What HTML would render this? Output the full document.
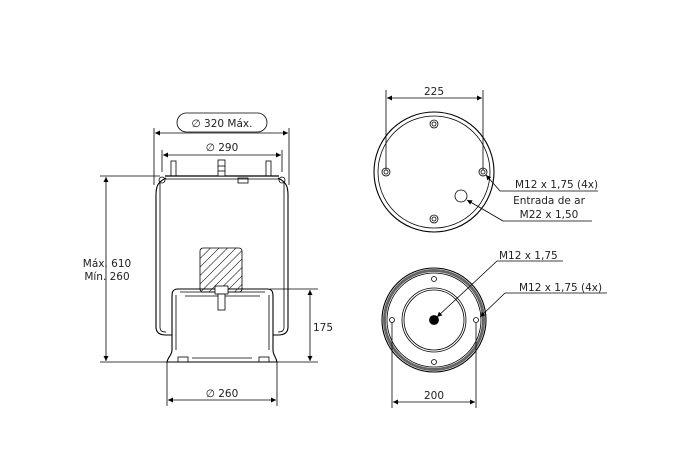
<!DOCTYPE html>
<html><head><meta charset="utf-8"><style>
html,body{margin:0;padding:0;background:#fff;}
svg{display:block;font-family:"DejaVu Sans","Liberation Sans",sans-serif;}
</style></head><body>
<svg width="679" height="471" viewBox="0 0 679 471" xmlns="http://www.w3.org/2000/svg">
<defs>
<marker id="a" viewBox="0 0 10 10" refX="10" refY="5" markerWidth="8" markerHeight="5" orient="auto-start-reverse" markerUnits="userSpaceOnUse"><path d="M0,0L10,5L0,10z" fill="#000"/></marker>
<pattern id="h" width="6" height="6" patternUnits="userSpaceOnUse" patternTransform="rotate(45)"><line x1="0" y1="0" x2="0" y2="6" stroke="#000" stroke-width="1"/></pattern>
</defs>
<g stroke="#000" fill="none" stroke-width="0.8">
<!-- LEFT VIEW -->
<rect x="177" y="113" width="90" height="19" rx="9.5"/>
<line x1="154" y1="128" x2="154" y2="185"/><line x1="289" y1="128" x2="289" y2="185"/>
<line x1="155" y1="133" x2="288" y2="133" marker-start="url(#a)" marker-end="url(#a)"/>
<line x1="162" y1="150" x2="162" y2="172"/><line x1="282" y1="150" x2="282" y2="172"/>
<line x1="163" y1="155" x2="281" y2="155" marker-start="url(#a)" marker-end="url(#a)"/>
<!-- top plate -->
<line x1="165" y1="176" x2="279" y2="176" stroke-width="1.2"/>
<line x1="165" y1="179" x2="279" y2="179"/>
<rect x="171" y="161" width="5" height="15"/><rect x="266" y="161" width="5" height="15"/>
<rect x="218" y="160" width="7" height="16" fill="#fff"/><line x1="218" y1="166" x2="225" y2="166"/><line x1="218" y1="171" x2="225" y2="171"/>
<rect x="238" y="178" width="10" height="5"/>
<!-- bellows -->
<path d="M166,178 C158,182 156,186 156,195 L156,327 C156,333 160,335 166,335 L174,335" stroke-width="1.1"/>
<path d="M160,183 L160,327 C160,331 162,332 166,332" />
<path d="M278,178 C286,182 288,186 288,195 L288,327 C288,333 284,335 278,335 L271,335" stroke-width="1.1"/>
<path d="M284,183 L284,327 C284,331 282,332 278,332"/>
<circle cx="162" cy="180" r="3"/><circle cx="282" cy="180" r="3"/>
<!-- piston -->
<path d="M178,289 C172,289 172,293 172,297 L172,350 C172,355 168,357 167,362 L277,362 C276,357 273,355 273,350 L273,297 C273,293 273,289 267,289 Z" fill="#fff" stroke-width="1.1"/>
<path d="M176,295 L176,350 M269,295 L269,350"/>
<path d="M180,292 L265,292 M185,296 L260,296"/>
<rect x="200" y="248" width="42" height="44" rx="3" fill="url(#h)"/>
<rect x="215" y="286" width="13" height="8" fill="#fff"/>
<rect x="218" y="294" width="7" height="16" fill="#fff"/>
<rect x="178" y="357" width="10" height="5"/><rect x="259" y="357" width="10" height="5"/>
<line x1="192" y1="358" x2="252" y2="358"/>
<!-- dims -->
<line x1="100" y1="176" x2="160" y2="176"/>
<line x1="100" y1="362" x2="318" y2="362"/>
<line x1="106" y1="177" x2="106" y2="361" marker-start="url(#a)" marker-end="url(#a)"/>
<line x1="270" y1="289" x2="318" y2="289"/>
<line x1="310" y1="290" x2="310" y2="361" marker-start="url(#a)" marker-end="url(#a)"/>
<line x1="167" y1="362" x2="167" y2="406"/><line x1="277" y1="362" x2="277" y2="406"/>
<line x1="168" y1="400" x2="276" y2="400" marker-start="url(#a)" marker-end="url(#a)"/>
<!-- TOP RIGHT -->
<circle cx="434" cy="172" r="60" stroke-width="1.1"/>
<circle cx="434" cy="172" r="56"/>
<g><circle cx="386" cy="172" r="4"/><circle cx="386" cy="172" r="2"/>
<circle cx="483" cy="172" r="4"/><circle cx="483" cy="172" r="2"/>
<circle cx="434" cy="124" r="4"/><circle cx="434" cy="124" r="2"/>
<circle cx="434" cy="219" r="4"/><circle cx="434" cy="219" r="2"/></g>
<circle cx="461" cy="196" r="6"/>
<line x1="386" y1="90" x2="386" y2="170"/><line x1="483" y1="90" x2="483" y2="170"/>
<line x1="387" y1="98" x2="482" y2="98" marker-start="url(#a)" marker-end="url(#a)"/>
<polyline points="500,191 598,191"/><line x1="500" y1="191" x2="486" y2="175" marker-end="url(#a)"/>
<polyline points="503,221 592,221"/><line x1="503" y1="221" x2="467" y2="200" marker-end="url(#a)"/>
<!-- BOTTOM RIGHT -->
<circle cx="434" cy="320" r="52" stroke-width="1.1"/>
<circle cx="434" cy="320" r="49.5" stroke="#666" stroke-width="3"/>
<circle cx="434" cy="320" r="47"/>
<circle cx="434" cy="320" r="32"/><circle cx="434" cy="320" r="30"/>
<circle cx="434" cy="320" r="4.5" fill="#000"/>
<circle cx="392" cy="320" r="2.5"/><circle cx="476" cy="320" r="2.5"/>
<circle cx="434" cy="279" r="2.5"/><circle cx="434" cy="362" r="2.5"/>
<line x1="392" y1="323" x2="392" y2="408"/><line x1="476" y1="323" x2="476" y2="408"/>
<line x1="393" y1="402" x2="475" y2="402" marker-start="url(#a)" marker-end="url(#a)"/>
<polyline points="497,261 563,261"/><line x1="497" y1="261" x2="437" y2="317" marker-end="url(#a)"/>
<polyline points="505,293 607,293"/><line x1="505" y1="293" x2="480" y2="317" marker-end="url(#a)"/>
</g>
<g font-size="10.5" fill="#222">
<text x="222" y="127" text-anchor="middle">∅ 320 Máx.</text>
<text x="222" y="151" text-anchor="middle">∅ 290</text>
<text x="107" y="267" text-anchor="middle">Máx. 610</text>
<text x="107" y="280" text-anchor="middle">Mín. 260</text>
<text x="313" y="331">175</text>
<text x="222" y="397" text-anchor="middle">∅ 260</text>
<text x="434" y="95" text-anchor="middle">225</text>
<text x="515" y="188">M12 x 1,75 (4x)</text>
<text x="549" y="204" text-anchor="middle">Entrada de ar</text>
<text x="549" y="218" text-anchor="middle">M22 x 1,50</text>
<text x="499" y="259">M12 x 1,75</text>
<text x="519" y="291">M12 x 1,75 (4x)</text>
<text x="434" y="399" text-anchor="middle">200</text>
</g>
</svg>
</body></html>
